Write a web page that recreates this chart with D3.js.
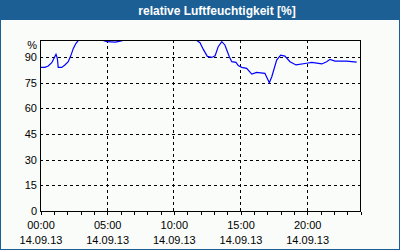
<!DOCTYPE html>
<html>
<head>
<meta charset="utf-8">
<script src="https://cdn.jsdelivr.net/npm/d3@7"></script>
<style>
  body { margin: 0; background: #fff; }
  svg { display: block; }
  text { font-family: "Liberation Sans", Arial, sans-serif; font-size: 11px; fill: #000; }
</style>
</head>
<body>
<div id="svgDiv"></div>
<script>
// data: time of day (HH:MM) and humidity (%), values above 100 get clipped
var times = ["00:00","00:22","00:37","00:53","01:03","01:12","01:18","01:22","01:38","01:52",
             "02:07","02:18","02:30","02:42","02:52","03:10","04:00","04:38","05:00","05:40",
             "06:10","06:20","07:30","09:00","11:00","11:42","12:00","12:15","12:33","12:53",
             "13:08","13:22","13:38","13:52","14:12","14:23","14:42","14:52","15:08","15:30",
             "15:53","16:15","16:52","17:12","17:23","17:45","18:03","18:22","18:45","19:12",
             "20:00","20:23","21:08","21:30","21:45","22:08","23:00","23:45"];
var humidity = [84.0,84.0,84.8,86.7,89.3,91.6,89.3,84.0,84.0,85.4,
                87.3,90.6,95.1,98.1,99.6,101,102,100,99.0,98.8,
                99.6,100.2,102,103,102,100,98.4,94.5,90.4,89.8,
                90.8,96.1,99.0,97.1,90.2,87.3,86.9,85.0,84.0,83.4,
                80.1,81.1,80.5,75.0,78.5,88.3,91.2,90.6,87.3,85.4,
                86.4,86.9,86.0,87.3,88.7,87.7,87.7,87.1];
var yTicks = [0, 15, 30, 45, 60, 75, 90];
var xMajor = [0, 5, 10, 15, 20];
var xLabels = ["00:00", "05:00", "10:00", "15:00", "20:00"];
var dateLabel = "14.09.13";
var title = "relative Luftfeuchtigkeit [%]";

var svgWidth = 400, svgHeight = 250;
var blue = "#1c5f94";

var svg = d3.select("#svgDiv").append("svg")
    .attr("width", svgWidth).attr("height", svgHeight);

// frame + title bar
svg.append("rect").attr("x", 0.5).attr("y", 0.5)
    .attr("width", svgWidth - 1).attr("height", svgHeight - 1)
    .attr("fill", "#fafcfa").attr("stroke", blue);
svg.append("rect").attr("x", 0).attr("y", 0)
    .attr("width", svgWidth).attr("height", 20).attr("fill", blue);
svg.append("text").attr("x", 217).attr("y", 14.5)
    .attr("text-anchor", "middle")
    .style("font-weight", "bold").style("font-size", "12px").style("fill", "#fff")
    .text(title);

var xScale = d3.scaleLinear().domain([0, 24]).range([40, 360]);
var yScale = d3.scaleLinear().domain([0, 100]).range([211, 40]);
var px = v => Math.round(v) + 0.5;

var data = times.map(function(t, i) {
    var p = t.split(":");
    return { h: +p[0] + p[1] / 60, v: humidity[i] };
});

// grid
var grid = svg.append("g").attr("shape-rendering", "crispEdges")
    .attr("stroke", "#000").attr("stroke-dasharray", "3,3");
grid.selectAll("line.h").data(yTicks.filter(d => d > 0)).enter().append("line")
    .attr("x1", 40).attr("x2", 360)
    .attr("y1", d => px(yScale(d))).attr("y2", d => px(yScale(d)));
grid.selectAll("line.v").data(xMajor.filter(d => d > 0)).enter().append("line")
    .attr("y1", 40).attr("y2", 211)
    .attr("x1", d => px(xScale(d))).attr("x2", d => px(xScale(d)));

// bottom axis with hourly ticks
var xAxis = d3.axisBottom(xScale).tickValues(d3.range(0, 25)).tickSize(3).tickFormat("");
svg.append("g").attr("transform", "translate(0.5," + px(211) + ")")
    .attr("shape-rendering", "crispEdges")
    .call(xAxis)
    .call(g => g.select(".domain").remove());

// y labels
svg.selectAll("text.ylab").data(yTicks).enter().append("text")
    .attr("x", 37).attr("y", d => yScale(d) + 4)
    .attr("text-anchor", "end").text(d => d);
svg.append("text").attr("x", 37).attr("y", 49).attr("text-anchor", "end").text("%");

// x labels
svg.selectAll("text.xlab").data(xMajor).enter().append("text")
    .attr("x", d => xScale(d) + 1).attr("y", 229)
    .attr("text-anchor", "middle").text((d, i) => xLabels[i]);
svg.selectAll("text.xdate").data(xMajor).enter().append("text")
    .attr("x", d => xScale(d) + 1).attr("y", 244)
    .attr("text-anchor", "middle").text(dateLabel);

// line, clipped to plot
svg.append("clipPath").attr("id", "plotClip").append("rect")
    .attr("x", 40).attr("y", 40).attr("width", 320).attr("height", 171);
var line = d3.line().x(d => xScale(d.h)).y(d => yScale(d.v));
svg.append("path").datum(data)
    .attr("clip-path", "url(#plotClip)")
    .attr("fill", "none").attr("stroke", "#0000ff").attr("stroke-width", 1.2)
    .attr("d", line);

// plot frame
svg.append("rect").attr("x", px(40)).attr("y", px(40))
    .attr("width", 320).attr("height", 171)
    .attr("fill", "none").attr("stroke", "#000").attr("shape-rendering", "crispEdges");
</script>
</body>
</html>
